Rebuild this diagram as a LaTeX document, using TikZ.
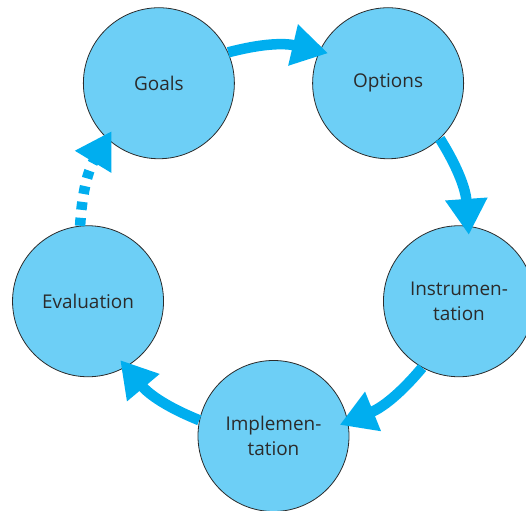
\documentclass[tikz,border=0pt]{standalone}
\usepackage{fontspec}
\setmainfont{Open Sans}
\usetikzlibrary{arrows.meta}
\definecolor{stagefill}{HTML}{6DCFF6}
\definecolor{flowblue}{HTML}{00AEEF}
\definecolor{textgray}{HTML}{2B2B2B}
\begin{document}
\begin{tikzpicture}[x=1bp,y=1bp,
    stage/.style={circle,draw=textgray,line width=0.8bp,fill=stagefill,
      minimum size=151bp,inner sep=0pt,align=center,text=textgray,
      font=\fontsize{19}{25}\selectfont},
    flow/.style={draw=flowblue,line width=10.5bp,
      -{Triangle[length=36bp,width=40bp]},shorten >=-9bp},
    dotflow/.style={flow,dash pattern=on 8bp off 8bp}]
    \useasboundingbox (-273.5,-270) rectangle (252.5,241);
    % Stages
    \node[stage] (goals) at (126:195) {Goals};
    \node[stage] (options) at (54:195) {Options};
    \node[stage] (instr) at (-18:195) {Instrumen-\\tation};
    \node[stage] (impl) at (-90:195) {Implemen-\\tation};
    \node[stage] (eval) at (198:195) {Evaluation};
    % Arrows
    \draw[flow] (goals.24.8) to[bend left=14] (options.155.2);
    \draw[flow] (options.-47.2) to[bend left=14] (instr.83.2);
    \draw[flow] (instr.-119.2) to[bend left=14] (impl.11.2);
    \draw[flow] (impl.168.8) to[bend left=14] (eval.-60.8);
    \draw[dotflow] (eval.96.8) to[bend left=14] (goals.227.2);
\end{tikzpicture}
\end{document}
